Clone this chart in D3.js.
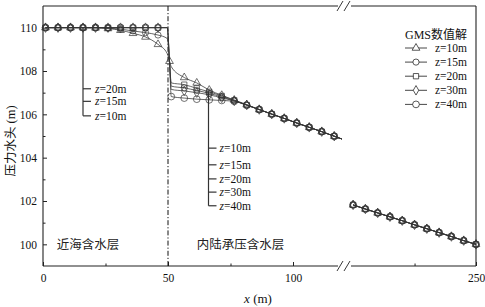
<!DOCTYPE html>
<html><head><meta charset="utf-8">
<script src="https://cdn.jsdelivr.net/npm/d3@7"></script>
<style>
body{margin:0;background:#fff;}
svg{display:block;}
.serif{font-family:"Liberation Serif","Times New Roman",serif;}
.cjk{font-family:"Noto Sans CJK SC",sans-serif;}
</style></head>
<body>
<svg id="c" width="485" height="307"></svg>
<script>
// ---------- data ----------
const seriesNames = ["z=10m","z=15m","z=20m","z=30m","z=40m"];
const xLeft  = [1, 6, 11, 16, 21, 26, 31, 36, 41, 46];
const z10Left = [110, 110, 110, 110, 109.99, 109.96, 109.88, 109.74, 109.57, 109.23];
const z15Left = [110, 110, 110, 110, 110, 109.98, 109.93, 109.85, 109.77, 109.66];
const z20Left = [110, 110, 110, 110, 110, 110, 110, 110, 110, 110];
const z30Left = [110, 110, 110, 110, 110, 110, 110, 110, 110, 110];
const z40Left = [110, 110, 110, 110, 110, 110, 110, 110, 110, 110];
// junction at the interface x = 50
const xJoin = [49.7, 50.6, 51.3];
const z10Join = [108.8, 108.45, 108.2];
const z15Join = [109.5, 108.45, 107.3];
const z20Join = [110, 108.45, 107.45];
const z30Join = [110, 108.45, 107.15];
const z40Join = [110, 108.45, 106.82];
const joinMarkIndex = [1, null, null, null, 2];
const xRight = [56.5, 61.5, 66.5, 71.5, 76.5, 81.5, 86.5, 91.5, 96.5, 101.5, 106.5, 111.5, 116.5];
const z10Right = [107.7, 107.45, 107.12, 106.88, 106.66, 106.45, 106.22, 106.01, 105.81, 105.6, 105.4, 105.2, 104.99];
const z15Right = [107.22, 107.1, 106.97, 106.8, 106.63, 106.43, 106.22, 106.01, 105.81, 105.6, 105.4, 105.2, 104.99];
const z20Right = [107.37, 107.2, 107.04, 106.85, 106.65, 106.43, 106.22, 106.01, 105.81, 105.6, 105.4, 105.2, 104.99];
const z30Right = [107.08, 107.0, 106.9, 106.76, 106.62, 106.43, 106.22, 106.01, 105.81, 105.6, 105.4, 105.2, 104.99];
const z40Right = [106.75, 106.7, 106.67, 106.64, 106.6, 106.42, 106.22, 106.01, 105.81, 105.6, 105.4, 105.2, 104.99];
const xRightEnd = [119.6];
const rightEndValue = [104.86];
const xFar = [200, 205, 210, 215, 220, 225, 230, 235, 240, 245, 250];
const farValues = [101.82, 101.63, 101.45, 101.27, 101.09, 100.9, 100.72, 100.54, 100.36, 100.17, 100.0];
const yTicks = [100, 102, 104, 106, 108, 110];
const yMinor = [101, 103, 105, 107, 109];
const xTicksA = [0, 50, 100];
const xMinorA = [25, 75];
const xTicksB = [250];
const xMinorB = [225];
const leftBracketLabels = ["z=20m","z=15m","z=10m"];
const leftBracketY = [107.18, 106.6, 105.93];
const rightBracketLabels = ["z=10m","z=15m","z=20m","z=30m","z=40m"];
const rightBracketY = [104.44, 103.67, 103.02, 102.41, 101.78];

const leftData = [z10Left, z15Left, z20Left, z30Left, z40Left];
const joinData = [z10Join, z15Join, z20Join, z30Join, z40Join];
const rightData = [z10Right, z15Right, z20Right, z30Right, z40Right];
const symbols = [d3.symbolTriangle, d3.symbolCircle, d3.symbolSquare, d3.symbolDiamond, d3.symbolCircle];
const symSize = [26, 30, 28, 26, 36];

// ---------- scales ----------
const L = 43, R = 476, T = 6, B = 266, BRK = 344;
const x1 = d3.scaleLinear().domain([0, 120.4]).range([L, BRK]);
const x2 = d3.scaleLinear().domain([196.3, 250]).range([BRK, R]);
const xs = v => v < 150 ? x1(v) : x2(v);
const y = d3.scaleLinear().domain([99, 111]).range([B, T]);

const svg = d3.select("#c");
const ink = "#222";

// ---------- axes ----------
const gy = svg.append("g").attr("transform", `translate(${L},0)`).attr("class","serif")
  .call(d3.axisLeft(y).tickValues(yTicks).tickSize(-4).tickPadding(6).tickFormat(d3.format("d")));
const gym = svg.append("g").attr("transform", `translate(${L},0)`)
  .call(d3.axisLeft(y).tickValues(yMinor).tickSize(-2.5).tickFormat(""));
const gxa = svg.append("g").attr("transform", `translate(0,${B})`).attr("class","serif")
  .call(d3.axisBottom(x1).tickValues(xTicksA).tickSize(-4).tickPadding(8).tickFormat(d3.format("d")));
const gxam = svg.append("g").attr("transform", `translate(0,${B})`)
  .call(d3.axisBottom(x1).tickValues(xMinorA).tickSize(-2.5).tickFormat(""));
const gxb = svg.append("g").attr("transform", `translate(0,${B})`).attr("class","serif")
  .call(d3.axisBottom(x2).tickValues(xTicksB).tickSize(-4).tickPadding(8).tickFormat(d3.format("d")));
const gxbm = svg.append("g").attr("transform", `translate(0,${B})`)
  .call(d3.axisBottom(x2).tickValues(xMinorB).tickSize(-2.5).tickFormat(""));
[gy, gym, gxa, gxam, gxb, gxbm].forEach(g => {
  g.select(".domain").remove();
  g.selectAll("line").attr("stroke", ink).attr("stroke-width", 1);
  g.selectAll("text").attr("font-size", 11.5).attr("fill", "#111")
    .attr("font-family", '"Liberation Serif","Times New Roman",serif');
});

// frame with breaks
const frame = svg.append("g").attr("stroke", ink).attr("stroke-width", 1.1).attr("fill", "none");
frame.append("line").attr("x1", L).attr("x2", L).attr("y1", T).attr("y2", B);
frame.append("line").attr("x1", R).attr("x2", R).attr("y1", T).attr("y2", B);
[T, B].forEach(yy => {
  frame.append("line").attr("x1", L).attr("x2", BRK - 6).attr("y1", yy).attr("y2", yy);
  frame.append("line").attr("x1", BRK + 7).attr("x2", R).attr("y1", yy).attr("y2", yy);
  [-4, 3].forEach(o => frame.append("line")
    .attr("x1", BRK + o - 3).attr("y1", yy + 5).attr("x2", BRK + o + 3).attr("y2", yy - 5)
    .attr("stroke-width", 0.9));
});

// interface dash-dot line
svg.append("line").attr("x1", x1(50)).attr("x2", x1(50)).attr("y1", T).attr("y2", B)
  .attr("stroke", "#111").attr("stroke-width", 1).attr("stroke-dasharray", "5,2,1.2,2");

// ---------- series ----------
const line = d3.line().x(d => xs(d[0])).y(d => y(d[1])).curve(d3.curveMonotoneX);
const plot = svg.append("g");
seriesNames.forEach((name, i) => {
  const near = [];
  xLeft.forEach((xv, k) => near.push([xv, leftData[i][k]]));
  xJoin.forEach((xv, k) => near.push([xv, joinData[i][k]]));
  xRight.forEach((xv, k) => near.push([xv, rightData[i][k]]));
  xRightEnd.forEach((xv, k) => near.push([xv, rightEndValue[k]]));
  const far = xFar.map((xv, k) => [xv, farValues[k]]);
  [near, far].forEach(pts => plot.append("path").attr("d", line(pts))
    .attr("fill", "none").attr("stroke", "#333").attr("stroke-width", 0.75));
});
seriesNames.forEach((name, i) => {
  const marks = [];
  xLeft.forEach((xv, k) => marks.push([xv, leftData[i][k]]));
  if (joinMarkIndex[i] !== null) marks.push([xJoin[joinMarkIndex[i]], joinData[i][joinMarkIndex[i]]]);
  xRight.forEach((xv, k) => marks.push([xv, rightData[i][k]]));
  xFar.forEach((xv, k) => marks.push([xv, farValues[k]]));
  const sym = d3.symbol().type(symbols[i]).size(symSize[i]);
  plot.selectAll(null).data(marks).enter().append("path")
    .attr("d", sym).attr("transform", d => `translate(${xs(d[0])},${y(d[1])})`)
    .attr("fill", "none").attr("stroke", "#333").attr("stroke-width", 0.7);
});

// ---------- annotations ----------
const ann = svg.append("g").attr("stroke", "#333").attr("stroke-width", 1.2);
const lbx = x1(16);
ann.append("line").attr("x1", lbx).attr("x2", lbx).attr("y1", y(110)).attr("y2", y(leftBracketY[2]));
leftBracketY.forEach(v => ann.append("line").attr("x1", lbx).attr("x2", lbx + 8).attr("y1", y(v)).attr("y2", y(v)));
const rbx = x1(66.2);
ann.append("line").attr("x1", rbx).attr("x2", rbx).attr("y1", y(107.05)).attr("y2", y(rightBracketY[4]));
rightBracketY.forEach(v => ann.append("line").attr("x1", rbx).attr("x2", rbx + 8).attr("y1", y(v)).attr("y2", y(v)));

function zLabel(g, xp, yp, txt, italic) {
  const t = g.append("text").attr("class","serif").attr("x", xp).attr("y", yp).attr("dy", "0.35em")
    .attr("font-size", 11.5).attr("fill", "#111");
  t.append("tspan").attr("font-style", italic ? "italic" : "normal").text(txt.slice(0,1));
  t.append("tspan").text(txt.slice(1));
}
leftBracketLabels.forEach((s, k) => zLabel(svg, lbx + 12, y(leftBracketY[k]), s, true));
rightBracketLabels.forEach((s, k) => zLabel(svg, rbx + 11, y(rightBracketY[k]), s, true));

// zone labels
svg.append("text").attr("class","cjk").attr("x", x1(5.5)).attr("y", y(100) + 5).attr("font-size", 12.5)
  .attr("fill", "#222").text("近海含水层");
svg.append("text").attr("class","cjk").attr("x", x1(61.5)).attr("y", y(100) + 5).attr("font-size", 12.5)
  .attr("fill", "#222").text("内陆承压含水层");

// axis titles
const xt = svg.append("text").attr("class","serif").attr("x", 258).attr("y", 303)
  .attr("text-anchor","middle").attr("font-size", 13).attr("fill","#111");
xt.append("tspan").attr("font-style","italic").text("x");
xt.append("tspan").text(" (m)");
const yt = svg.append("text").attr("transform", "translate(14.5,141) rotate(-90)")
  .attr("text-anchor","middle").attr("font-size", 12.5).attr("fill","#111");
yt.append("tspan").attr("font-family", '"Noto Sans CJK SC",sans-serif').text("压力水头");
yt.append("tspan").attr("font-family", '"Liberation Serif",serif').text(" (m)");

// ---------- legend ----------
const leg = svg.append("g");
const lt = leg.append("text").attr("x", 405).attr("y", 35).attr("dy","0.35em").attr("font-size", 12).attr("fill","#111");
lt.append("tspan").attr("font-family", '"Liberation Serif",serif').text("GMS");
lt.append("tspan").attr("font-family", '"Noto Sans CJK SC",sans-serif').text("数值解");
seriesNames.forEach((name, i) => {
  const yy = 48 + i * 14.1;
  leg.append("line").attr("x1", 405).attr("x2", 427).attr("y1", yy).attr("y2", yy)
    .attr("stroke", "#333").attr("stroke-width", 0.9);
  leg.append("path").attr("d", d3.symbol().type(symbols[i]).size(symSize[i])())
    .attr("transform", `translate(416,${yy})`).attr("fill", "#fff").attr("stroke", "#222").attr("stroke-width", 0.75);
  zLabel(leg, 435, yy, name, false);
});
</script>
</body></html>
